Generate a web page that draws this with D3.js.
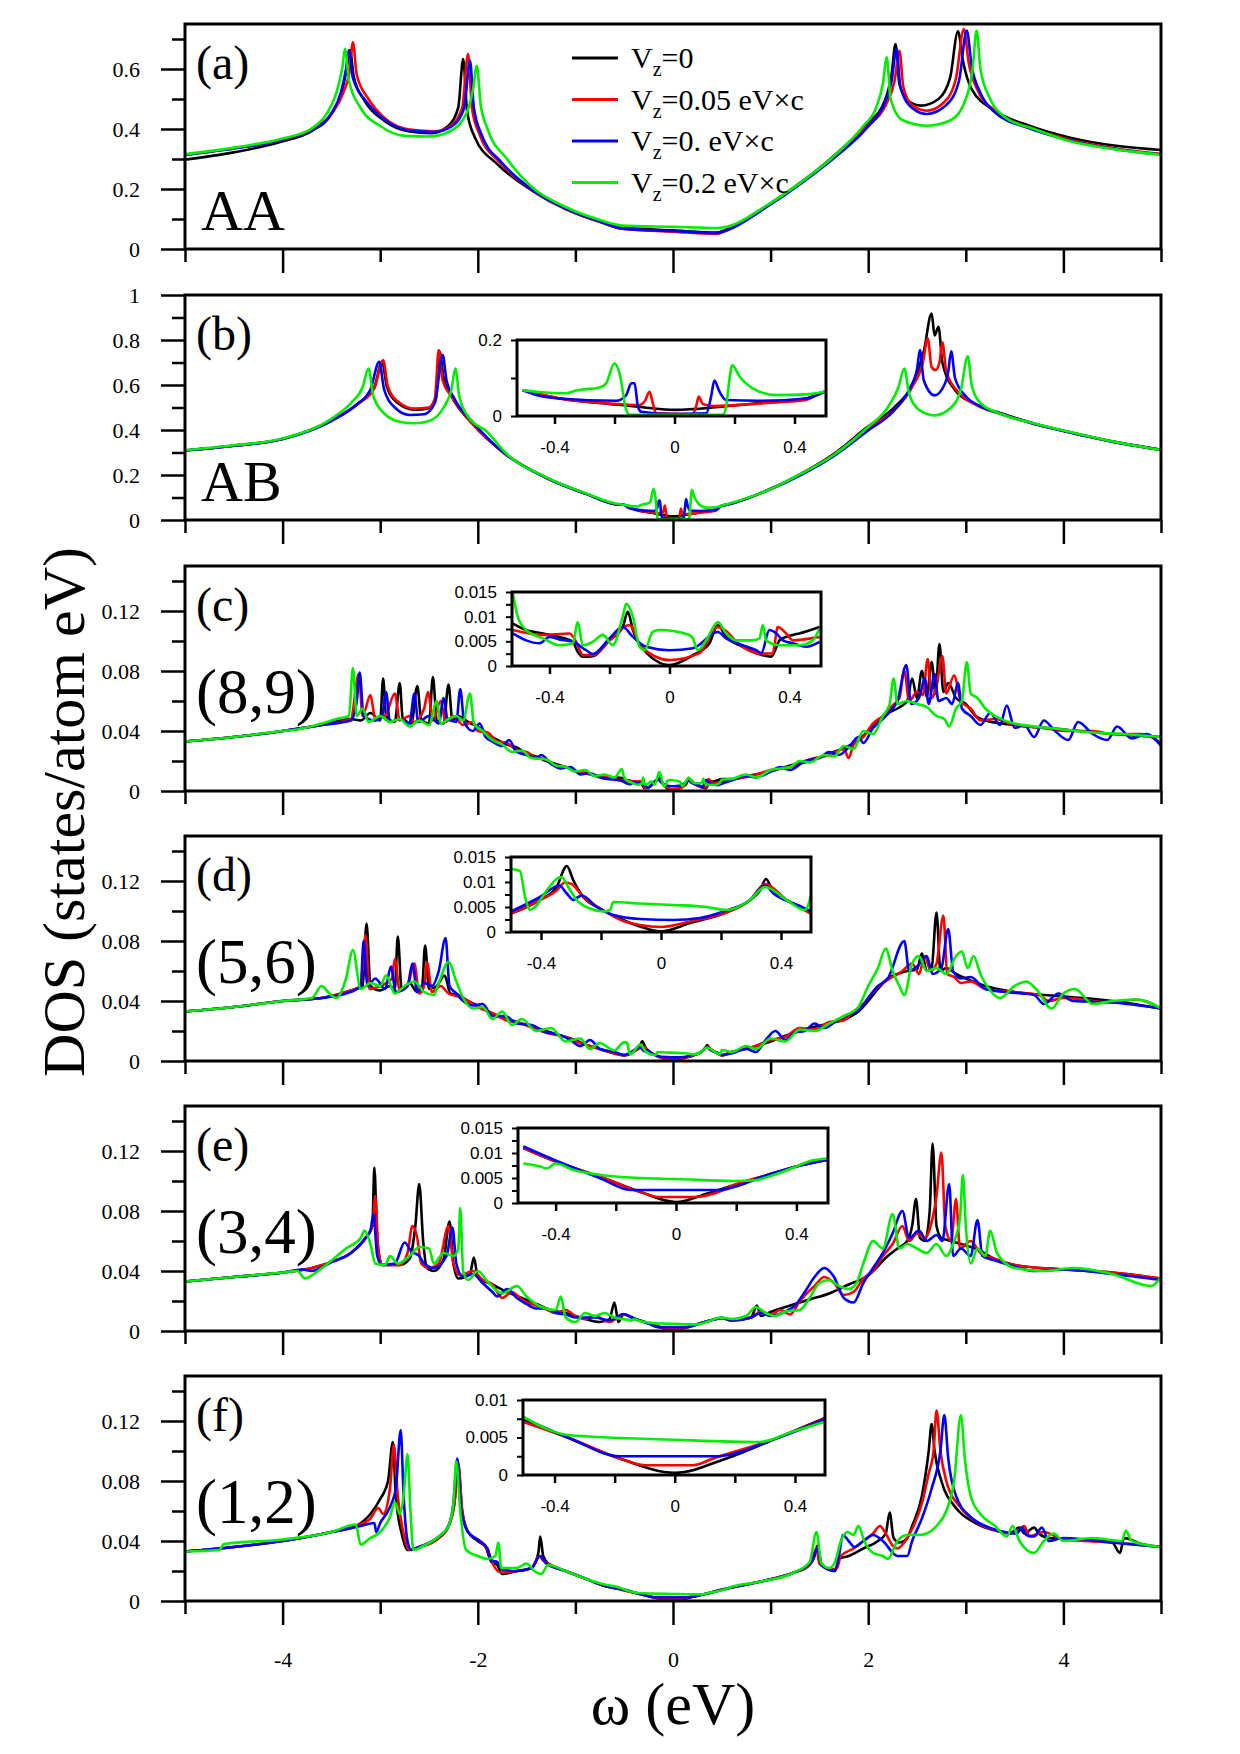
<!DOCTYPE html>
<html>
<head>
<meta charset="utf-8">
<script src="https://cdn.jsdelivr.net/npm/d3@7"></script>
<style>
  body { margin: 0; background: #fff; }
  text { font-family: "Liberation Serif", "Times New Roman", serif; }
  .ins text { font-family: "Liberation Sans", Arial, sans-serif; }
</style>
</head>
<body>
<svg id="chart" width="1240" height="1754"></svg>
<script>
// ---- data: [omega (eV), DOS] ----
const legendText = ["0", "0.05 eV×c", "0. eV×c", "0.2 eV×c"];
const xMajor = [-4, -2, 0, 2, 4];
const xMinor = [-5, -3, -1, 1, 3, 5];
const yTicksA = [0, 0.2, 0.4, 0.6], yMinorA = [0.1, 0.3, 0.5, 0.7];
const yTicksB = [0, 0.2, 0.4, 0.6, 0.8, 1], yMinorB = [0.1, 0.3, 0.5, 0.7, 0.9];
const yTicksC = [0, 0.04, 0.08, 0.12], yMinorC = [0.02, 0.06, 0.1, 0.14];
const insXTicks = [-0.4, -0.2, 0, 0.2, 0.4];

// (a) AA
const aBlack = [[-5,0.298],[-4.5,0.322],[-4,0.359],[-3.7,0.394],[-3.5,0.45],[-3.4,0.517],[-3.34,0.606],[-3.31,0.663],[-3.27,0.572],[-3.16,0.494],[-2.96,0.428],[-2.7,0.392],[-2.48,0.386],[-2.3,0.411],[-2.2,0.472],[-2.15,0.633],[-2.11,0.461],[-2.03,0.372],[-1.8,0.283],[-1.44,0.194],[-1.1,0.133],[-0.76,0.092],[-0.52,0.072],[0,0.062],[0.45,0.055],[0.55,0.065],[0.96,0.144],[1.31,0.222],[1.65,0.311],[1.99,0.417],[2.17,0.494],[2.24,0.583],[2.28,0.683],[2.32,0.55],[2.41,0.494],[2.54,0.478],[2.72,0.5],[2.84,0.572],[2.92,0.726],[2.97,0.628],[3.06,0.533],[3.3,0.461],[3.65,0.411],[4.06,0.372],[4.54,0.344],[5,0.33]];
const aRed = [[-5,0.314],[-4.5,0.335],[-4,0.365],[-3.7,0.398],[-3.5,0.45],[-3.38,0.52],[-3.31,0.6],[-3.28,0.689],[-3.24,0.58],[-3.12,0.5],[-2.95,0.435],[-2.7,0.398],[-2.45,0.392],[-2.28,0.41],[-2.16,0.47],[-2.1,0.65],[-2.06,0.47],[-1.98,0.38],[-1.78,0.29],[-1.44,0.196],[-1.1,0.134],[-0.76,0.092],[-0.52,0.068],[0,0.058],[0.45,0.05],[0.55,0.062],[0.96,0.142],[1.31,0.22],[1.65,0.305],[1.99,0.41],[2.18,0.48],[2.27,0.56],[2.32,0.661],[2.36,0.54],[2.45,0.48],[2.6,0.461],[2.78,0.49],[2.9,0.57],[2.98,0.733],[3.03,0.62],[3.12,0.53],[3.3,0.46],[3.65,0.405],[4.06,0.365],[4.54,0.335],[5,0.317]];
const aBlue = [[-5,0.314],[-4.5,0.335],[-4,0.365],[-3.7,0.398],[-3.5,0.452],[-3.4,0.525],[-3.35,0.6],[-3.32,0.663],[-3.28,0.57],[-3.15,0.495],[-2.95,0.43],[-2.7,0.395],[-2.45,0.39],[-2.26,0.41],[-2.14,0.47],[-2.08,0.628],[-2.04,0.47],[-1.96,0.38],[-1.76,0.29],[-1.44,0.197],[-1.1,0.135],[-0.76,0.093],[-0.52,0.068],[0,0.06],[0.45,0.053],[0.55,0.062],[0.96,0.14],[1.31,0.218],[1.65,0.303],[1.99,0.405],[2.16,0.48],[2.24,0.56],[2.29,0.667],[2.33,0.54],[2.45,0.47],[2.6,0.45],[2.8,0.48],[2.93,0.56],[3.01,0.728],[3.06,0.61],[3.15,0.52],[3.3,0.455],[3.65,0.402],[4.06,0.362],[4.54,0.333],[5,0.315]];
const aGreen = [[-5,0.316],[-4.5,0.338],[-4,0.368],[-3.7,0.402],[-3.55,0.45],[-3.45,0.52],[-3.39,0.6],[-3.36,0.667],[-3.32,0.56],[-3.2,0.47],[-3,0.41],[-2.75,0.377],[-2.5,0.375],[-2.3,0.39],[-2.12,0.45],[-2.05,0.53],[-2.01,0.611],[-1.97,0.48],[-1.9,0.4],[-1.7,0.3],[-1.44,0.205],[-1.1,0.14],[-0.76,0.098],[-0.52,0.078],[0,0.074],[0.45,0.07],[0.55,0.074],[0.96,0.145],[1.31,0.222],[1.65,0.31],[1.95,0.41],[2.08,0.47],[2.15,0.55],[2.19,0.639],[2.23,0.5],[2.35,0.43],[2.6,0.411],[2.85,0.43],[3,0.5],[3.07,0.6],[3.11,0.728],[3.15,0.6],[3.25,0.5],[3.4,0.44],[3.7,0.4],[4.06,0.36],[4.54,0.332],[5,0.314]];

// (b) AB, outer part
const bBlack = [[-5,0.309],[-4.5,0.33],[-4,0.36],[-3.5,0.443],[-3.23,0.517],[-3.06,0.591],[-2.98,0.703],[-2.93,0.59],[-2.82,0.52],[-2.65,0.49],[-2.5,0.497],[-2.43,0.54],[-2.39,0.747],[-2.35,0.63],[-2.27,0.55],[-2.06,0.43],[-1.72,0.294],[-1.31,0.19],[-0.89,0.116],[-0.55,0.068],[0.55,0.068],[0.96,0.131],[1.31,0.205],[1.65,0.294],[1.99,0.413],[2.27,0.502],[2.45,0.6],[2.57,0.75],[2.65,0.918],[2.68,0.82],[2.72,0.859],[2.76,0.7],[2.89,0.577],[3.09,0.517],[3.37,0.473],[3.71,0.428],[4.06,0.391],[4.54,0.346],[5,0.312]];
const bRed = [[-5,0.309],[-4.5,0.33],[-4,0.36],[-3.5,0.443],[-3.23,0.515],[-3.06,0.585],[-2.97,0.71],[-2.92,0.59],[-2.8,0.52],[-2.65,0.495],[-2.5,0.5],[-2.44,0.54],[-2.4,0.755],[-2.36,0.62],[-2.27,0.55],[-2.06,0.43],[-1.72,0.294],[-1.31,0.19],[-0.89,0.116],[-0.55,0.068],[0.55,0.068],[0.96,0.13],[1.31,0.203],[1.65,0.29],[1.99,0.405],[2.27,0.49],[2.45,0.59],[2.56,0.7],[2.61,0.807],[2.65,0.68],[2.69,0.666],[2.73,0.7],[2.76,0.79],[2.8,0.66],[2.92,0.57],[3.09,0.515],[3.37,0.47],[3.71,0.426],[4.06,0.39],[4.54,0.345],[5,0.312]];
const bBlue = [[-5,0.309],[-4.5,0.33],[-4,0.36],[-3.5,0.44],[-3.25,0.51],[-3.1,0.58],[-3.01,0.703],[-2.96,0.58],[-2.85,0.5],[-2.7,0.467],[-2.55,0.47],[-2.44,0.52],[-2.36,0.733],[-2.32,0.62],[-2.24,0.54],[-2.04,0.43],[-1.72,0.294],[-1.31,0.19],[-0.89,0.116],[-0.55,0.068],[0.55,0.068],[0.96,0.13],[1.31,0.2],[1.65,0.285],[1.99,0.395],[2.25,0.48],[2.42,0.58],[2.5,0.67],[2.53,0.755],[2.57,0.62],[2.68,0.554],[2.78,0.6],[2.82,0.66],[2.85,0.75],[2.89,0.63],[3,0.55],[3.15,0.505],[3.37,0.47],[3.71,0.426],[4.06,0.39],[4.54,0.345],[5,0.312]];
const bGreen = [[-5,0.31],[-4.5,0.332],[-4,0.362],[-3.5,0.45],[-3.3,0.52],[-3.18,0.59],[-3.12,0.673],[-3.07,0.55],[-2.95,0.47],[-2.8,0.437],[-2.65,0.43],[-2.5,0.44],[-2.35,0.5],[-2.27,0.58],[-2.23,0.673],[-2.19,0.55],[-2.1,0.46],[-1.9,0.39],[-1.72,0.3],[-1.31,0.192],[-0.89,0.118],[-0.55,0.07],[0.55,0.07],[0.96,0.13],[1.31,0.205],[1.65,0.29],[1.99,0.41],[2.2,0.5],[2.31,0.59],[2.37,0.673],[2.42,0.56],[2.52,0.49],[2.68,0.465],[2.85,0.5],[2.95,0.58],[3.02,0.728],[3.06,0.6],[3.15,0.52],[3.37,0.47],[3.71,0.428],[4.06,0.392],[4.54,0.346],[5,0.311]];
const bInBlack = [[-0.506,0.068],[-0.383,0.046],[-0.217,0.032],[-0.106,0.023],[0,0.016],[0.06,0.018],[0.172,0.026],[0.339,0.038],[0.439,0.046],[0.472,0.055],[0.5,0.064]];
const bInRed = [[-0.506,0.068],[-0.461,0.06],[-0.383,0.046],[-0.217,0.033],[-0.117,0.029],[-0.1,0.038],[-0.083,0.064],[-0.072,0.033],[-0.061,0.007],[0.06,0.005],[0.072,0.025],[0.081,0.051],[0.094,0.032],[0.128,0.026],[0.283,0.033],[0.439,0.042],[0.472,0.055],[0.5,0.064]];
const bInBlue = [[-0.506,0.068],[-0.461,0.055],[-0.383,0.046],[-0.194,0.04],[-0.161,0.055],[-0.144,0.086],[-0.133,0.086],[-0.122,0.025],[-0.111,0.011],[-0.006,0.005],[0.106,0.007],[0.122,0.051],[0.133,0.093],[0.15,0.064],[0.172,0.042],[0.283,0.04],[0.439,0.046],[0.5,0.064]];
const bInGreen = [[-0.506,0.068],[-0.461,0.064],[-0.361,0.06],[-0.328,0.067],[-0.25,0.075],[-0.228,0.086],[-0.2,0.139],[-0.183,0.112],[-0.161,0.016],[-0.15,0.003],[0.161,0.003],[0.172,0.025],[0.183,0.095],[0.192,0.134],[0.217,0.104],[0.261,0.073],[0.339,0.055],[0.439,0.057],[0.5,0.064]];

// (c) (8,9)
const cBlack = [[-5,0.033],[-4.5,0.036],[-4,0.04],[-3.6,0.044],[-3.3,0.048],[-3.2,0.047],[-3.1,0.052],[-3,0.047],[-2.97,0.075],[-2.94,0.05],[-2.85,0.046],[-2.8,0.072],[-2.77,0.049],[-2.68,0.045],[-2.62,0.07],[-2.58,0.048],[-2.5,0.045],[-2.46,0.076],[-2.42,0.047],[-2.35,0.045],[-2.3,0.071],[-2.26,0.047],[-2.2,0.05],[-2.1,0.046],[-2,0.043],[-1.9,0.038],[-1.8,0.034],[-1.7,0.031],[-1.6,0.029],[-1.5,0.025],[-1.4,0.023],[-1.3,0.02],[-1.2,0.018],[-1.1,0.016],[-1,0.0135],[-0.9,0.012],[-0.8,0.0105],[-0.7,0.0095],[-0.6,0.009],[0.6,0.008],[0.8,0.0105],[1,0.013],[1.2,0.017],[1.4,0.02],[1.6,0.025],[1.8,0.03],[1.9,0.034],[2,0.04],[2.1,0.047],[2.2,0.052],[2.3,0.055],[2.4,0.06],[2.45,0.075],[2.5,0.062],[2.55,0.08],[2.6,0.063],[2.65,0.086],[2.69,0.065],[2.73,0.098],[2.77,0.066],[2.82,0.072],[2.9,0.062],[3,0.058],[3.1,0.05],[3.2,0.047],[3.5,0.044],[4,0.041],[4.5,0.038],[5,0.036]];
const cRed = [[-5,0.033],[-4.5,0.036],[-4,0.04],[-3.6,0.044],[-3.3,0.048],[-3.22,0.078],[-3.18,0.05],[-3.1,0.064],[-3.05,0.048],[-2.95,0.05],[-2.85,0.065],[-2.8,0.047],[-2.7,0.05],[-2.65,0.046],[-2.55,0.055],[-2.51,0.066],[-2.46,0.047],[-2.38,0.06],[-2.33,0.046],[-2.25,0.05],[-2.15,0.044],[-2.05,0.046],[-2,0.04],[-1.9,0.039],[-1.8,0.033],[-1.7,0.032],[-1.6,0.027],[-1.5,0.026],[-1.4,0.022],[-1.3,0.021],[-1.2,0.017],[-1.1,0.016],[-1,0.013],[-0.9,0.012],[-0.8,0.01],[-0.7,0.0095],[-0.6,0.008],[0.6,0.0075],[0.8,0.01],[1,0.014],[1.2,0.016],[1.4,0.021],[1.6,0.024],[1.75,0.028],[1.8,0.022],[1.85,0.031],[1.95,0.036],[2.05,0.045],[2.15,0.05],[2.25,0.057],[2.32,0.062],[2.37,0.08],[2.42,0.06],[2.5,0.066],[2.56,0.064],[2.61,0.088],[2.65,0.062],[2.7,0.07],[2.76,0.09],[2.8,0.065],[2.88,0.077],[2.95,0.06],[3.05,0.055],[3.15,0.047],[3.3,0.048],[3.5,0.044],[3.8,0.042],[4,0.04],[4.3,0.04],[4.5,0.038],[4.8,0.038],[5,0.032]];
const cBlue = [[-5,0.033],[-4.5,0.036],[-4,0.04],[-3.6,0.044],[-3.3,0.047],[-3.24,0.06],[-3.21,0.079],[-3.17,0.05],[-3.05,0.047],[-2.98,0.05],[-2.94,0.066],[-2.9,0.046],[-2.8,0.048],[-2.7,0.045],[-2.65,0.065],[-2.61,0.046],[-2.5,0.05],[-2.4,0.045],[-2.35,0.062],[-2.31,0.048],[-2.22,0.046],[-2.18,0.068],[-2.14,0.046],[-2.05,0.04],[-1.98,0.045],[-1.92,0.036],[-1.85,0.033],[-1.75,0.03],[-1.68,0.034],[-1.6,0.026],[-1.5,0.024],[-1.4,0.022],[-1.35,0.024],[-1.25,0.018],[-1.15,0.015],[-1.05,0.016],[-0.95,0.011],[-0.85,0.012],[-0.75,0.009],[-0.6,0.0075],[0.6,0.007],[0.75,0.01],[0.85,0.009],[1,0.013],[1.1,0.016],[1.2,0.014],[1.35,0.02],[1.5,0.022],[1.6,0.026],[1.7,0.024],[1.8,0.029],[1.9,0.036],[1.95,0.032],[2.05,0.042],[2.15,0.048],[2.25,0.055],[2.3,0.06],[2.39,0.084],[2.44,0.058],[2.52,0.062],[2.58,0.075],[2.62,0.058],[2.68,0.078],[2.72,0.06],[2.8,0.062],[2.86,0.058],[2.92,0.072],[2.96,0.055],[3.05,0.05],[3.15,0.044],[3.25,0.052],[3.35,0.044],[3.42,0.057],[3.5,0.042],[3.6,0.044],[3.7,0.036],[3.8,0.047],[3.9,0.041],[4.05,0.034],[4.15,0.046],[4.3,0.038],[4.45,0.034],[4.55,0.043],[4.7,0.035],[4.85,0.038],[5,0.03]];
const cGreen = [[-5,0.033],[-4.5,0.036],[-4,0.04],[-3.85,0.041],[-3.6,0.045],[-3.45,0.048],[-3.32,0.05],[-3.28,0.082],[-3.24,0.05],[-3.18,0.055],[-3.12,0.046],[-3,0.05],[-2.9,0.046],[-2.8,0.048],[-2.7,0.043],[-2.6,0.047],[-2.5,0.044],[-2.42,0.06],[-2.38,0.045],[-2.3,0.048],[-2.22,0.05],[-2.15,0.047],[-2.08,0.065],[-2.04,0.045],[-1.95,0.04],[-1.85,0.034],[-1.75,0.031],[-1.65,0.026],[-1.55,0.027],[-1.45,0.022],[-1.3,0.021],[-1.2,0.017],[-1.1,0.016],[-1,0.013],[-0.9,0.014],[-0.8,0.01],[-0.7,0.011],[-0.6,0.009],[0.6,0.008],[0.75,0.011],[0.85,0.009],[1,0.014],[1.2,0.016],[1.3,0.02],[1.4,0.019],[1.55,0.024],[1.65,0.023],[1.75,0.03],[1.85,0.028],[1.95,0.04],[2.05,0.038],[2.15,0.05],[2.22,0.058],[2.26,0.075],[2.3,0.058],[2.4,0.06],[2.5,0.058],[2.6,0.056],[2.7,0.05],[2.78,0.048],[2.83,0.043],[2.9,0.055],[2.96,0.06],[3.01,0.086],[3.05,0.065],[3.12,0.062],[3.2,0.055],[3.3,0.05],[3.5,0.045],[3.7,0.043],[4,0.041],[4.3,0.039],[4.6,0.038],[5,0.036]];
const cInBlack = [[-0.522,0.0086],[-0.478,0.0073],[-0.422,0.0066],[-0.367,0.0059],[-0.322,0.0049],[-0.306,0.0029],[-0.289,0.0019],[-0.256,0.002],[-0.2,0.0052],[-0.156,0.0079],[-0.139,0.011],[-0.122,0.0073],[-0.094,0.0039],[0,0.0002],[0.078,0.0022],[0.133,0.0046],[0.161,0.0083],[0.189,0.0059],[0.244,0.0039],[0.3,0.0024],[0.339,0.0019],[0.35,0.0029],[0.367,0.0052],[0.411,0.0063],[0.433,0.0066],[0.5,0.0079]];
const cInRed = [[-0.522,0.0073],[-0.422,0.0063],[-0.333,0.0066],[-0.311,0.0049],[-0.289,0.0022],[-0.256,0.0022],[-0.2,0.0052],[-0.133,0.0083],[-0.094,0.0039],[0,0.0012],[0.1,0.0026],[0.161,0.0079],[0.244,0.0039],[0.3,0.0025],[0.344,0.0026],[0.361,0.0079],[0.389,0.0066],[0.411,0.0052],[0.5,0.0059]];
const cInBlue = [[-0.522,0.0066],[-0.478,0.0052],[-0.433,0.0046],[-0.4,0.0059],[-0.367,0.0054],[-0.322,0.0049],[-0.278,0.0032],[-0.256,0.0024],[-0.2,0.0056],[-0.156,0.0079],[-0.122,0.0059],[-0.078,0.0039],[0,0.0032],[0.078,0.0036],[0.161,0.0069],[0.189,0.0056],[0.244,0.0042],[0.289,0.0032],[0.306,0.0026],[0.333,0.0073],[0.356,0.0066],[0.378,0.0052],[0.411,0.0046],[0.456,0.0039],[0.5,0.0049]];
const cInGreen = [[-0.522,0.0147],[-0.506,0.01],[-0.478,0.0073],[-0.422,0.0056],[-0.367,0.0042],[-0.322,0.0046],[-0.306,0.0089],[-0.289,0.0042],[-0.256,0.0049],[-0.222,0.0063],[-0.189,0.0042],[-0.156,0.01],[-0.144,0.0126],[-0.122,0.01],[-0.1,0.0039],[-0.083,0.0032],[-0.056,0.0069],[-0.033,0.0073],[0.067,0.0063],[0.078,0.0056],[0.094,0.0032],[0.122,0.0052],[0.161,0.0089],[0.189,0.0066],[0.222,0.0052],[0.278,0.0052],[0.3,0.0056],[0.311,0.0083],[0.322,0.0052],[0.367,0.0042],[0.433,0.0042],[0.478,0.0052],[0.5,0.0076]];

// (d) (5,6)
const dBlack = [[-5,0.033],[-4.5,0.036],[-4,0.04],[-3.6,0.042],[-3.35,0.046],[-3.25,0.048],[-3.18,0.05],[-3.14,0.0916],[-3.1,0.05],[-3,0.047],[-2.9,0.05],[-2.85,0.048],[-2.82,0.083],[-2.78,0.048],[-2.7,0.052],[-2.62,0.046],[-2.57,0.05],[-2.54,0.077],[-2.5,0.048],[-2.42,0.05],[-2.34,0.057],[-2.28,0.045],[-2.2,0.044],[-2.1,0.04],[-2,0.037],[-1.85,0.031],[-1.7,0.028],[-1.5,0.024],[-1.3,0.02],[-1.15,0.017],[-1,0.014],[-0.9,0.011],[-0.8,0.009],[-0.7,0.007],[-0.6,0.005],[0.6,0.006],[0.8,0.009],[1,0.013],[1.2,0.018],[1.4,0.022],[1.6,0.025],[1.8,0.029],[1.9,0.033],[2,0.04],[2.1,0.048],[2.2,0.055],[2.3,0.058],[2.4,0.06],[2.5,0.061],[2.55,0.0716],[2.6,0.06],[2.65,0.062],[2.7,0.099],[2.74,0.06],[2.8,0.062],[2.9,0.058],[3,0.055],[3.2,0.05],[3.5,0.046],[4,0.043],[4.5,0.04],[5,0.035]];
const dRed = [[-5,0.033],[-4.5,0.036],[-4,0.04],[-3.6,0.042],[-3.35,0.046],[-3.2,0.05],[-3.15,0.084],[-3.11,0.048],[-3,0.05],[-2.88,0.055],[-2.85,0.068],[-2.8,0.047],[-2.72,0.05],[-2.65,0.065],[-2.6,0.045],[-2.55,0.05],[-2.52,0.066],[-2.47,0.046],[-2.38,0.05],[-2.3,0.045],[-2.2,0.043],[-2.1,0.04],[-2,0.036],[-1.85,0.032],[-1.7,0.027],[-1.55,0.025],[-1.4,0.021],[-1.25,0.018],[-1.1,0.016],[-0.95,0.012],[-0.8,0.009],[-0.7,0.007],[-0.6,0.005],[0.6,0.006],[0.8,0.009],[1,0.014],[1.15,0.016],[1.3,0.022],[1.45,0.021],[1.6,0.026],[1.75,0.027],[1.85,0.033],[1.95,0.038],[2.05,0.046],[2.15,0.052],[2.25,0.056],[2.35,0.06],[2.45,0.065],[2.52,0.058],[2.58,0.07],[2.64,0.06],[2.7,0.065],[2.77,0.097],[2.81,0.058],[2.88,0.056],[2.95,0.052],[3.05,0.053],[3.2,0.048],[3.5,0.046],[3.75,0.044],[3.85,0.04],[4,0.042],[4.5,0.039],[4.75,0.041],[5,0.035]];
const dBlue = [[-5,0.033],[-4.5,0.036],[-4,0.04],[-3.6,0.042],[-3.35,0.045],[-3.2,0.05],[-3.17,0.08],[-3.13,0.05],[-3.05,0.055],[-2.95,0.048],[-2.89,0.063],[-2.84,0.046],[-2.72,0.05],[-2.67,0.065],[-2.62,0.046],[-2.55,0.052],[-2.47,0.05],[-2.4,0.06],[-2.33,0.082],[-2.29,0.05],[-2.22,0.045],[-2.15,0.04],[-2.05,0.037],[-1.95,0.038],[-1.85,0.03],[-1.72,0.03],[-1.6,0.025],[-1.45,0.024],[-1.3,0.019],[-1.2,0.018],[-1.05,0.014],[-0.95,0.01],[-0.85,0.014],[-0.75,0.008],[-0.6,0.006],[0.6,0.005],[0.75,0.008],[0.85,0.006],[0.95,0.014],[1.05,0.02],[1.15,0.014],[1.25,0.019],[1.35,0.02],[1.45,0.025],[1.55,0.022],[1.7,0.028],[1.8,0.031],[1.92,0.035],[2,0.042],[2.1,0.05],[2.2,0.055],[2.37,0.08],[2.42,0.06],[2.5,0.063],[2.6,0.07],[2.66,0.058],[2.75,0.062],[2.82,0.088],[2.87,0.06],[2.95,0.055],[3.05,0.056],[3.2,0.048],[3.4,0.046],[3.7,0.044],[3.8,0.038],[3.95,0.045],[4.1,0.04],[4.5,0.039],[5,0.035]];
const dGreen = [[-5,0.033],[-4.5,0.036],[-4,0.04],[-3.7,0.042],[-3.6,0.05],[-3.52,0.045],[-3.45,0.042],[-3.35,0.055],[-3.28,0.074],[-3.2,0.048],[-3.1,0.052],[-3,0.05],[-2.94,0.057],[-2.85,0.045],[-2.75,0.05],[-2.65,0.053],[-2.55,0.046],[-2.45,0.044],[-2.4,0.052],[-2.3,0.066],[-2.22,0.053],[-2.15,0.042],[-2.05,0.035],[-1.95,0.036],[-1.85,0.028],[-1.75,0.033],[-1.65,0.024],[-1.55,0.028],[-1.4,0.02],[-1.25,0.022],[-1.1,0.013],[-0.95,0.015],[-0.85,0.008],[-0.75,0.012],[-0.6,0.007],[0.6,0.006],[0.75,0.01],[0.85,0.008],[1,0.015],[1.15,0.013],[1.3,0.021],[1.45,0.02],[1.6,0.025],[1.75,0.03],[1.9,0.036],[2,0.05],[2.1,0.062],[2.18,0.075],[2.25,0.06],[2.32,0.05],[2.37,0.044],[2.45,0.065],[2.52,0.07],[2.6,0.06],[2.7,0.062],[2.8,0.058],[2.9,0.07],[2.96,0.073],[3.02,0.062],[3.08,0.07],[3.15,0.058],[3.25,0.047],[3.35,0.042],[3.5,0.05],[3.62,0.053],[3.72,0.048],[3.88,0.035],[4,0.045],[4.12,0.048],[4.3,0.038],[4.5,0.04],[4.75,0.041],[5,0.035]];
const dInBlack = [[-0.5,0.0037],[-0.403,0.0064],[-0.348,0.009],[-0.314,0.0132],[-0.292,0.0103],[-0.259,0.007],[-0.203,0.0047],[-0.126,0.0024],[-0.07,0.0011],[0,0.0001],[0.097,0.0018],[0.208,0.0037],[0.297,0.0064],[0.33,0.0083],[0.35,0.0106],[0.369,0.0086],[0.419,0.0064],[0.463,0.005],[0.5,0.0037]];
const dInRed = [[-0.5,0.0037],[-0.403,0.0064],[-0.348,0.0083],[-0.32,0.0099],[-0.298,0.0096],[-0.259,0.007],[-0.203,0.0047],[-0.126,0.0022],[-0.07,0.0014],[0,0.001],[0.097,0.0021],[0.208,0.0037],[0.297,0.0064],[0.347,0.0096],[0.419,0.0064],[0.5,0.0037]];
const dInBlue = [[-0.5,0.0041],[-0.403,0.007],[-0.339,0.0093],[-0.314,0.0077],[-0.292,0.0064],[-0.276,0.007],[-0.264,0.0073],[-0.214,0.005],[-0.159,0.0034],[-0.07,0.0026],[0.041,0.0024],[0.13,0.0028],[0.208,0.0041],[0.297,0.0064],[0.347,0.0093],[0.375,0.0077],[0.463,0.0052],[0.5,0.0041]];
const dInGreen = [[-0.5,0.0126],[-0.47,0.0122],[-0.453,0.007],[-0.437,0.0044],[-0.42,0.005],[-0.381,0.0083],[-0.348,0.0106],[-0.331,0.011],[-0.309,0.009],[-0.281,0.0064],[-0.237,0.0047],[-0.192,0.0041],[-0.17,0.0044],[-0.159,0.006],[-0.07,0.0057],[0.041,0.0054],[0.152,0.005],[0.219,0.0044],[0.297,0.0064],[0.347,0.009],[0.419,0.0064],[0.48,0.0044],[0.5,0.0073]];

// (e) (3,4)
const eBlack = [[-5,0.033],[-4.5,0.036],[-4,0.039],[-3.7,0.042],[-3.5,0.046],[-3.3,0.052],[-3.15,0.062],[-3.08,0.07],[-3.06,0.109],[-3.03,0.06],[-2.98,0.044],[-2.8,0.044],[-2.7,0.048],[-2.64,0.07],[-2.6,0.098],[-2.56,0.06],[-2.52,0.042],[-2.45,0.04],[-2.35,0.048],[-2.29,0.073],[-2.25,0.045],[-2.2,0.035],[-2.08,0.038],[-2.04,0.049],[-2,0.036],[-1.85,0.031],[-1.7,0.026],[-1.55,0.022],[-1.4,0.018],[-1.25,0.014],[-1.1,0.012],[-1,0.01],[-0.9,0.008],[-0.75,0.006],[-0.65,0.008],[-0.6,0.019],[-0.56,0.006],[0.6,0.007],[0.8,0.009],[0.86,0.017],[0.9,0.01],[1,0.0127],[1.2,0.017],[1.4,0.021],[1.6,0.025],[1.8,0.031],[2,0.037],[2.2,0.05],[2.3,0.055],[2.4,0.06],[2.45,0.07],[2.49,0.088],[2.53,0.062],[2.58,0.06],[2.63,0.08],[2.66,0.125],[2.7,0.07],[2.75,0.062],[2.85,0.06],[2.95,0.058],[3.1,0.055],[3.3,0.048],[3.5,0.044],[4,0.041],[4.5,0.039],[5,0.035]];
const eRed = [[-5,0.033],[-4.5,0.036],[-4,0.039],[-3.7,0.042],[-3.5,0.046],[-3.3,0.052],[-3.15,0.062],[-3.08,0.07],[-3.05,0.09],[-3.02,0.055],[-2.98,0.044],[-2.8,0.044],[-2.72,0.052],[-2.67,0.07],[-2.62,0.062],[-2.58,0.045],[-2.5,0.042],[-2.4,0.045],[-2.3,0.07],[-2.25,0.045],[-2.18,0.037],[-2.05,0.04],[-1.95,0.034],[-1.85,0.031],[-1.75,0.022],[-1.65,0.026],[-1.55,0.021],[-1.45,0.018],[-1.35,0.016],[-1.2,0.012],[-1.1,0.014],[-1,0.01],[-0.9,0.008],[-0.8,0.01],[-0.65,0.006],[0.6,0.007],[0.8,0.009],[0.9,0.013],[1,0.011],[1.1,0.014],[1.2,0.011],[1.3,0.02],[1.45,0.03],[1.55,0.036],[1.65,0.032],[1.75,0.024],[1.85,0.026],[1.95,0.035],[2.05,0.04],[2.15,0.05],[2.25,0.058],[2.35,0.07],[2.42,0.06],[2.5,0.065],[2.58,0.062],[2.63,0.068],[2.7,0.09],[2.75,0.119],[2.79,0.07],[2.85,0.06],[2.9,0.088],[2.94,0.055],[3.05,0.06],[3.15,0.052],[3.3,0.048],[3.5,0.044],[4,0.041],[4.5,0.039],[5,0.035]];
const eBlue = [[-5,0.033],[-4.5,0.036],[-4,0.039],[-3.8,0.041],[-3.7,0.04],[-3.5,0.046],[-3.3,0.052],[-3.15,0.062],[-3.1,0.067],[-3.07,0.078],[-3.03,0.05],[-2.98,0.044],[-2.85,0.045],[-2.75,0.059],[-2.68,0.053],[-2.6,0.05],[-2.55,0.045],[-2.45,0.042],[-2.32,0.05],[-2.26,0.069],[-2.22,0.045],[-2.15,0.036],[-2.05,0.038],[-1.95,0.032],[-1.85,0.026],[-1.8,0.023],[-1.7,0.028],[-1.6,0.022],[-1.5,0.018],[-1.4,0.015],[-1.3,0.015],[-1.2,0.012],[-1.1,0.011],[-1,0.009],[-0.8,0.009],[-0.65,0.007],[0.6,0.007],[0.8,0.009],[0.9,0.012],[1,0.01],[1.15,0.013],[1.25,0.017],[1.35,0.026],[1.45,0.036],[1.55,0.042],[1.65,0.036],[1.75,0.022],[1.85,0.019],[1.95,0.032],[2.05,0.042],[2.15,0.052],[2.25,0.065],[2.35,0.08],[2.42,0.062],[2.52,0.067],[2.6,0.06],[2.7,0.064],[2.76,0.06],[2.83,0.098],[2.87,0.05],[2.95,0.055],[3.05,0.05],[3.12,0.074],[3.17,0.05],[3.3,0.047],[3.5,0.043],[3.7,0.04],[4,0.041],[4.5,0.038],[5,0.034]];
const eGreen = [[-5,0.033],[-4.5,0.036],[-4,0.039],[-3.85,0.04],[-3.77,0.035],[-3.68,0.038],[-3.5,0.047],[-3.35,0.055],[-3.2,0.062],[-3.16,0.067],[-3.1,0.058],[-3.05,0.045],[-2.95,0.044],[-2.9,0.05],[-2.82,0.045],[-2.7,0.05],[-2.6,0.056],[-2.5,0.055],[-2.45,0.045],[-2.35,0.052],[-2.25,0.05],[-2.2,0.055],[-2.18,0.082],[-2.15,0.04],[-2.1,0.034],[-2,0.04],[-1.9,0.033],[-1.75,0.025],[-1.6,0.03],[-1.5,0.023],[-1.35,0.016],[-1.2,0.014],[-1.15,0.023],[-1.1,0.009],[-1,0.006],[-0.9,0.012],[-0.8,0.01],[-0.7,0.012],[-0.6,0.009],[0.6,0.008],[0.75,0.01],[0.85,0.016],[0.95,0.012],[1.05,0.01],[1.15,0.013],[1.3,0.014],[1.4,0.022],[1.5,0.032],[1.6,0.034],[1.7,0.03],[1.8,0.028],[1.88,0.032],[1.95,0.045],[2.05,0.06],[2.15,0.055],[2.25,0.078],[2.32,0.055],[2.4,0.058],[2.5,0.055],[2.6,0.052],[2.7,0.058],[2.8,0.05],[2.88,0.06],[2.94,0.075],[2.97,0.104],[3,0.07],[3.05,0.045],[3.12,0.055],[3.2,0.05],[3.25,0.067],[3.32,0.052],[3.5,0.042],[3.8,0.04],[4.1,0.042],[4.5,0.038],[4.9,0.03],[5,0.036]];
const eInBlack = [[-0.507,0.011],[-0.4,0.0083],[-0.25,0.0052],[-0.118,0.0022],[0,0.0002],[0.104,0.0019],[0.193,0.0036],[0.304,0.0056],[0.4,0.0073],[0.504,0.0087]];
const eInRed = [[-0.507,0.011],[-0.4,0.0083],[-0.25,0.0052],[-0.118,0.0022],[-0.06,0.0012],[0.06,0.0012],[0.127,0.0019],[0.193,0.0036],[0.304,0.0056],[0.4,0.0073],[0.504,0.0087]];
const eInBlue = [[-0.507,0.0113],[-0.4,0.0085],[-0.25,0.0049],[-0.151,0.0026],[0.149,0.0026],[0.193,0.0032],[0.304,0.0056],[0.4,0.0073],[0.504,0.0086]];
const eInGreen = [[-0.507,0.0079],[-0.451,0.0073],[-0.429,0.0069],[-0.4,0.0079],[-0.34,0.0066],[-0.25,0.0056],[-0.12,0.005],[0,0.0048],[0.193,0.0044],[0.27,0.0046],[0.304,0.0052],[0.4,0.0073],[0.44,0.0083],[0.504,0.0089]];

// (f) (1,2)
const fBlack = [[-5,0.033],[-4.5,0.036],[-4,0.04],[-3.5,0.046],[-3.25,0.05],[-3.1,0.058],[-3,0.068],[-2.92,0.08],[-2.87,0.106],[-2.84,0.07],[-2.78,0.045],[-2.72,0.034],[-2.6,0.036],[-2.4,0.042],[-2.3,0.05],[-2.24,0.065],[-2.2,0.09],[-2.16,0.06],[-2.1,0.046],[-2,0.04],[-1.92,0.036],[-1.86,0.026],[-1.8,0.024],[-1.75,0.018],[-1.6,0.02],[-1.45,0.022],[-1.38,0.032],[-1.36,0.043],[-1.33,0.03],[-1.28,0.025],[-1.1,0.02],[-0.9,0.015],[-0.7,0.01],[-0.55,0.008],[0.6,0.009],[0.9,0.013],[1.24,0.019],[1.38,0.023],[1.45,0.03],[1.48,0.037],[1.52,0.025],[1.6,0.021],[1.66,0.02],[1.7,0.028],[1.8,0.03],[1.95,0.035],[2.1,0.04],[2.18,0.045],[2.22,0.059],[2.26,0.042],[2.32,0.039],[2.4,0.042],[2.45,0.05],[2.55,0.07],[2.62,0.1],[2.65,0.118],[2.68,0.1],[2.75,0.08],[2.9,0.062],[3.1,0.052],[3.3,0.047],[3.45,0.045],[3.55,0.049],[3.6,0.045],[3.7,0.049],[3.75,0.045],[3.85,0.042],[4.2,0.041],[4.5,0.039],[4.58,0.032],[4.62,0.042],[4.8,0.038],[5,0.036]];
const fRed = [[-5,0.033],[-4.5,0.036],[-4,0.04],[-3.5,0.046],[-3.25,0.05],[-3.1,0.055],[-3.02,0.062],[-2.97,0.058],[-2.9,0.075],[-2.86,0.104],[-2.82,0.07],[-2.76,0.045],[-2.7,0.034],[-2.6,0.036],[-2.4,0.042],[-2.3,0.05],[-2.24,0.065],[-2.2,0.092],[-2.16,0.06],[-2.1,0.046],[-1.98,0.04],[-1.9,0.034],[-1.84,0.024],[-1.76,0.019],[-1.6,0.02],[-1.45,0.022],[-1.37,0.03],[-1.33,0.027],[-1.25,0.024],[-1.1,0.02],[-0.9,0.015],[-0.7,0.01],[-0.55,0.008],[0.6,0.009],[0.9,0.013],[1.24,0.019],[1.4,0.024],[1.47,0.035],[1.5,0.025],[1.62,0.021],[1.68,0.022],[1.72,0.03],[1.85,0.035],[1.95,0.04],[2.05,0.045],[2.12,0.05],[2.18,0.045],[2.25,0.037],[2.3,0.035],[2.38,0.04],[2.45,0.048],[2.55,0.065],[2.62,0.085],[2.67,0.1],[2.7,0.127],[2.74,0.1],[2.8,0.08],[2.95,0.062],[3.1,0.053],[3.3,0.047],[3.5,0.045],[3.6,0.05],[3.65,0.043],[3.8,0.046],[4,0.041],[4.5,0.039],[5,0.036]];
const fBlue = [[-5,0.033],[-4.5,0.036],[-4,0.04],[-3.5,0.046],[-3.2,0.05],[-3.06,0.052],[-3.04,0.046],[-3,0.052],[-2.92,0.06],[-2.84,0.075],[-2.79,0.114],[-2.76,0.07],[-2.72,0.04],[-2.68,0.034],[-2.6,0.036],[-2.4,0.043],[-2.3,0.05],[-2.25,0.065],[-2.21,0.095],[-2.17,0.06],[-2.1,0.046],[-1.98,0.04],[-1.9,0.035],[-1.86,0.027],[-1.8,0.026],[-1.75,0.021],[-1.6,0.02],[-1.45,0.022],[-1.36,0.03],[-1.3,0.025],[-1.1,0.02],[-0.9,0.015],[-0.7,0.01],[-0.55,0.008],[0.6,0.009],[0.9,0.013],[1.24,0.019],[1.42,0.026],[1.48,0.035],[1.52,0.024],[1.66,0.02],[1.7,0.03],[1.74,0.044],[1.8,0.04],[1.86,0.036],[1.95,0.04],[2.05,0.044],[2.15,0.04],[2.3,0.03],[2.4,0.03],[2.45,0.04],[2.55,0.055],[2.65,0.075],[2.74,0.1],[2.78,0.124],[2.82,0.095],[2.9,0.07],[3.05,0.056],[3.2,0.05],[3.4,0.046],[3.52,0.045],[3.58,0.049],[3.62,0.044],[3.7,0.043],[3.78,0.049],[3.85,0.04],[4,0.042],[4.5,0.039],[5,0.036]];
const fGreen = [[-5,0.033],[-4.65,0.034],[-4.6,0.038],[-4,0.041],[-3.5,0.046],[-3.25,0.051],[-3.2,0.0376],[-3.1,0.042],[-3,0.046],[-2.9,0.056],[-2.85,0.066],[-2.8,0.058],[-2.76,0.07],[-2.72,0.098],[-2.69,0.06],[-2.66,0.034],[-2.55,0.037],[-2.4,0.043],[-2.3,0.05],[-2.25,0.065],[-2.22,0.093],[-2.18,0.06],[-2.12,0.034],[-2,0.03],[-1.9,0.028],[-1.82,0.03],[-1.79,0.039],[-1.76,0.022],[-1.6,0.022],[-1.5,0.025],[-1.42,0.02],[-1.35,0.018],[-1.28,0.024],[-1.1,0.02],[-0.9,0.015],[-0.7,0.011],[-0.55,0.009],[0.6,0.0095],[0.9,0.013],[1.24,0.019],[1.4,0.026],[1.47,0.046],[1.52,0.025],[1.6,0.022],[1.66,0.026],[1.72,0.04],[1.79,0.046],[1.85,0.044],[1.9,0.05],[1.96,0.04],[2.05,0.032],[2.15,0.03],[2.2,0.028],[2.3,0.04],[2.4,0.044],[2.52,0.044],[2.6,0.045],[2.7,0.05],[2.8,0.06],[2.88,0.08],[2.95,0.124],[2.99,0.095],[3.05,0.07],[3.15,0.058],[3.3,0.05],[3.42,0.043],[3.48,0.05],[3.55,0.04],[3.7,0.032],[3.8,0.04],[3.9,0.045],[4,0.04],[4.3,0.042],[4.6,0.04],[4.64,0.047],[4.7,0.04],[5,0.036]];
const fInBlack = [[-0.506,0.0073],[-0.35,0.0049],[-0.183,0.0022],[0,0.0003],[0.172,0.0022],[0.339,0.0049],[0.5,0.0076]];
const fInRed = [[-0.506,0.0071],[-0.35,0.0049],[-0.183,0.0022],[-0.094,0.0013],[0.061,0.0013],[0.128,0.0022],[0.339,0.0049],[0.5,0.0075]];
const fInBlue = [[-0.506,0.0076],[-0.35,0.0049],[-0.183,0.0025],[0.139,0.0025],[0.339,0.0049],[0.5,0.0074]];
const fInGreen = [[-0.506,0.0078],[-0.35,0.0053],[0,0.0047],[0.283,0.0044],[0.394,0.0058],[0.5,0.0071]];

// ---- layout ----
const svg = d3.select("#chart");
const colors = ["#000000", "#ff0000", "#0000ff", "#00ee00"];
const L = 185, R = 1161, H = 225;
const tops = [24, 295, 566, 836, 1106, 1376];

const merge = (outer, inner) => outer.concat(inner || []).sort((p, q) => p[0] - q[0]);

const panels = [
  {tag: "(a)", name: "AA", yMax: 0.75, ticks: yTicksA, minor: yMinorA, lines: [aBlack, aRed, aBlue, aGreen]},
  {tag: "(b)", name: "AB", yMax: 1, ticks: yTicksB, minor: yMinorB, lines: [bBlack, bRed, bBlue, bGreen], ins: [bInBlack, bInRed, bInBlue, bInGreen],
   box: {x0: 517, x1: 826, top: 340, bot: 416, dom: [-0.525, 0.505], yMax: 0.2, ticks: [0, 0.2], minor: [0.1]}},
  {tag: "(c)", name: "(8,9)", yMax: 0.15, ticks: yTicksC, minor: yMinorC, lines: [cBlack, cRed, cBlue, cGreen], ins: [cInBlack, cInRed, cInBlue, cInGreen],
   box: {x0: 512, x1: 821, top: 592, bot: 666, dom: [-0.525, 0.505], yMax: 0.015, ticks: [0, 0.005, 0.01, 0.015], minor: [0.0025, 0.0075, 0.0125]}},
  {tag: "(d)", name: "(5,6)", yMax: 0.15, ticks: yTicksC, minor: yMinorC, lines: [dBlack, dRed, dBlue, dGreen], ins: [dInBlack, dInRed, dInBlue, dInGreen],
   box: {x0: 511, x1: 811, top: 857, bot: 932, dom: [-0.5, 0.5], yMax: 0.015, ticks: [0, 0.005, 0.01, 0.015], minor: [0.0025, 0.0075, 0.0125]}},
  {tag: "(e)", name: "(3,4)", yMax: 0.15, ticks: yTicksC, minor: yMinorC, lines: [eBlack, eRed, eBlue, eGreen], ins: [eInBlack, eInRed, eInBlue, eInGreen],
   box: {x0: 518, x1: 828, top: 1128, bot: 1203, dom: [-0.525, 0.505], yMax: 0.015, ticks: [0, 0.005, 0.01, 0.015], minor: [0.0025, 0.0075, 0.0125]}},
  {tag: "(f)", name: "(1,2)", yMax: 0.15, ticks: yTicksC, minor: yMinorC, lines: [fBlack, fRed, fBlue, fGreen], ins: [fInBlack, fInRed, fInBlue, fInGreen],
   box: {x0: 523, x1: 825, top: 1400, bot: 1475, dom: [-0.505, 0.5], yMax: 0.01, ticks: [0, 0.005, 0.01], minor: [0.0025, 0.0075]}}
];

const x = d3.scaleLinear().domain([-5, 5]).range([L, R]);

function styleAxis(g, w) {
  g.select(".domain").remove();
  g.selectAll(".tick line").attr("stroke", "#000").attr("stroke-width", w);
}

panels.forEach((p, i) => {
  const top = tops[i], bot = top + H;
  const y = d3.scaleLinear().domain([0, p.yMax]).range([bot, top]);
  const g = svg.append("g");

  g.append("clipPath").attr("id", "clip" + i)
    .append("rect").attr("x", L).attr("y", top).attr("width", R - L).attr("height", H);

  const line = d3.line().curve(d3.curveMonotoneX).x(d => x(d[0])).y(d => y(d[1]));
  g.append("g").attr("clip-path", `url(#clip${i})`)
    .selectAll("path").data(p.lines.map((s, k) => merge(s, p.ins ? p.ins[k] : null)))
    .join("path")
    .attr("d", line).attr("fill", "none")
    .attr("stroke", (d, k) => colors[k]).attr("stroke-width", 2.6)
    .attr("stroke-linejoin", "round");

  // y axis
  g.append("g").attr("transform", `translate(${L},0)`)
    .call(d3.axisLeft(y).tickValues(p.minor).tickSize(13).tickFormat(""))
    .call(a => styleAxis(a, 2.5));
  g.append("g").attr("transform", `translate(${L},0)`)
    .call(d3.axisLeft(y).tickValues(p.ticks).tickSize(24).tickPadding(21).tickFormat(d => String(d)))
    .call(a => styleAxis(a, 2.5))
    .call(a => a.selectAll("text").attr("font-size", 22).attr("fill", "#000")
      .attr("font-family", "Liberation Serif"));

  // x axis
  g.append("g").attr("transform", `translate(0,${bot})`)
    .call(d3.axisBottom(x).tickValues(xMinor).tickSize(13).tickFormat(""))
    .call(a => styleAxis(a, 2.5));
  const xa = g.append("g").attr("transform", `translate(0,${bot})`)
    .call(d3.axisBottom(x).tickValues(xMajor).tickSize(24).tickPadding(26)
      .tickFormat(i === panels.length - 1 ? (d => String(d)) : ""))
    .call(a => styleAxis(a, 2.5));
  xa.selectAll("text").attr("font-size", 22).attr("fill", "#000").attr("font-family", "Liberation Serif");

  g.append("rect").attr("x", L).attr("y", top).attr("width", R - L).attr("height", H)
    .attr("fill", "none").attr("stroke", "#000").attr("stroke-width", 3);

  g.append("text").attr("x", 196).attr("y", top + 55).attr("font-size", 48).text(p.tag);
  g.append("text").attr("x", i < 2 ? 201 : 196).attr("y", i < 2 ? bot - 19 : top + 147)
    .attr("font-size", i < 2 ? 58 : 63).text(p.name);

  if (p.box) {
    const b = p.box;
    const ix = d3.scaleLinear().domain(b.dom).range([b.x0, b.x1]);
    const iy = d3.scaleLinear().domain([0, b.yMax]).range([b.bot, b.top]);
    const ig = g.append("g").attr("class", "ins");
    ig.append("rect").attr("x", b.x0).attr("y", b.top).attr("width", b.x1 - b.x0).attr("height", b.bot - b.top)
      .attr("fill", "#fff");
    ig.append("clipPath").attr("id", "iclip" + i)
      .append("rect").attr("x", b.x0).attr("y", b.top).attr("width", b.x1 - b.x0).attr("height", b.bot - b.top);
    const il = d3.line().curve(d3.curveMonotoneX).x(d => ix(d[0])).y(d => iy(d[1]));
    ig.append("g").attr("clip-path", `url(#iclip${i})`)
      .selectAll("path").data(p.ins).join("path")
      .attr("d", il).attr("fill", "none")
      .attr("stroke", (d, k) => colors[k]).attr("stroke-width", 2.6)
      .attr("stroke-linejoin", "round");
    ig.append("g").attr("transform", `translate(${b.x0},0)`)
      .call(d3.axisLeft(iy).tickValues(b.minor).tickSize(6).tickFormat(""))
      .call(a => styleAxis(a, 2));
    ig.append("g").attr("transform", `translate(${b.x0},0)`)
      .call(d3.axisLeft(iy).tickValues(b.ticks).tickSize(6).tickPadding(9).tickFormat(d => String(d)))
      .call(a => styleAxis(a, 2))
      .call(a => a.selectAll("text").attr("font-size", 17).attr("fill", "#000"));
    ig.append("g").attr("transform", `translate(0,${b.bot})`)
      .call(d3.axisBottom(ix).tickValues(insXTicks).tickSize(8).tickPadding(17)
        .tickFormat(d => (d === 0 || Math.abs(d) === 0.4) ? String(d) : ""))
      .call(a => styleAxis(a, 2.5))
      .call(a => a.selectAll("text").attr("font-size", 17).attr("fill", "#000"));
    ig.append("rect").attr("x", b.x0).attr("y", b.top).attr("width", b.x1 - b.x0).attr("height", b.bot - b.top)
      .attr("fill", "none").attr("stroke", "#000").attr("stroke-width", 3);
  }
});

// legend in panel (a)
const leg = svg.append("g");
legendText.forEach((t, k) => {
  const ly = 58 + k * 41.5;
  leg.append("line").attr("x1", 572).attr("x2", 618).attr("y1", ly).attr("y2", ly)
    .attr("stroke", colors[k]).attr("stroke-width", 3);
  const tx = leg.append("text").attr("x", 631).attr("y", ly + 10).attr("font-size", 30);
  tx.append("tspan").text("V");
  tx.append("tspan").attr("font-size", 20).attr("dy", 8).text("z");
  tx.append("tspan").attr("dy", -8).text("=" + t);
});

// axis titles
svg.append("text").attr("transform", `translate(84,812) rotate(-90)`)
  .attr("text-anchor", "middle").attr("font-size", 60).text("DOS (states/atom eV)");
svg.append("text").attr("x", (L + R) / 2).attr("y", 1724)
  .attr("text-anchor", "middle").attr("font-size", 60).text("ω (eV)");
</script>
</body>
</html>
